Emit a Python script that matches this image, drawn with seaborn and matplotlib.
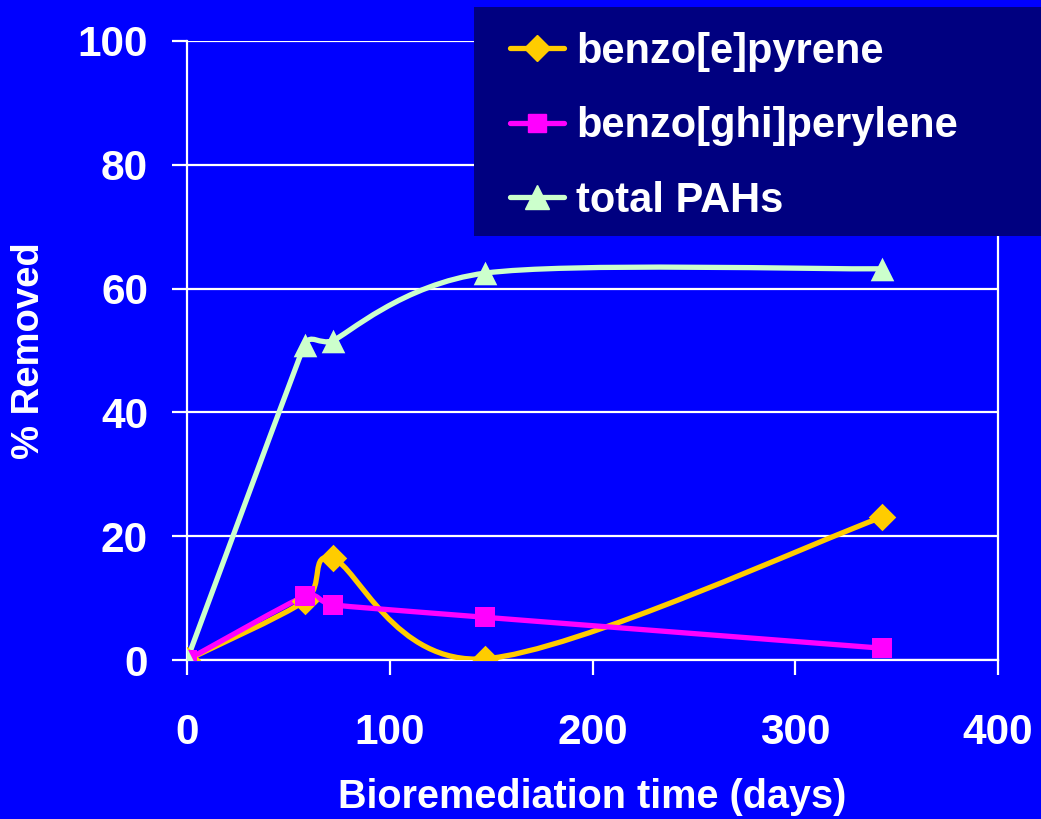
import numpy as np
import pandas as pd
import seaborn as sns
import matplotlib
matplotlib.use("Agg")
import matplotlib.pyplot as plt
from matplotlib.path import Path
from matplotlib.patches import PathPatch, Rectangle
from matplotlib.lines import Line2D

# Removal of PAHs over the bioremediation period
days = [0, 58, 72, 147, 343]
benzo_e_pyrene = [0.0, 9.5, 16.4, 0.2, 23.1]
benzo_ghi_perylene = [0.0, 10.3, 8.9, 6.9, 1.9]
total_pahs = [0.0, 50.9, 51.6, 62.5, 63.2]

series_names = ["benzo[e]pyrene", "benzo[ghi]perylene", "total PAHs"]
series_values = [benzo_e_pyrene, benzo_ghi_perylene, total_pahs]
series_colors = ["#FFCC00", "#FF00FF", "#CCFFCC"]
series_markers = ["D", "s", "^"]
marker_sizes = [14, 14.5, 17]

x_ticks = [0, 100, 200, 300, 400]
y_ticks = [0, 20, 40, 60, 80, 100]

BG = "#0000FF"
LEGEND_BG = "#000080"

sns.set_theme(style="white")
plt.rcParams["font.family"] = ["Liberation Sans", "DejaVu Sans"]
plt.rcParams["font.weight"] = "bold"

W, H = 1041, 819
fig = plt.figure(figsize=(W / 100, H / 100), dpi=100)
fig.patch.set_facecolor(BG)
ax = fig.add_axes([187 / W, 1 - 660 / H, (998 - 187) / W, (660 - 41) / H])
ax.set_facecolor(BG)
ax.set_xlim(0, 400)
ax.set_ylim(0, 100)


def smooth_path(axis, xs, ys, t=1 / 6):
    """Cubic Bezier path through the points, with tangents built in display
    space and each control arm capped at half the shorter adjacent segment."""
    to_disp = axis.transData
    pts = to_disp.transform(np.column_stack([xs, ys]).astype(float))
    n = len(pts)

    def arms(i):
        p_prev = pts[i - 1] if i > 0 else pts[i]
        p_next = pts[i + 1] if i + 1 < n else pts[i]
        tang = p_next - p_prev
        L = np.hypot(*tang)
        if L == 0:
            return np.zeros(2)
        arm = L * t
        segs = []
        if i > 0:
            segs.append(np.hypot(*(pts[i] - pts[i - 1])))
        if i + 1 < n:
            segs.append(np.hypot(*(pts[i + 1] - pts[i])))
        arm = min(arm, min(segs) / 2)
        return tang / L * arm

    verts = [pts[0]]
    codes = [Path.MOVETO]
    for i in range(n - 1):
        c1 = pts[i] + arms(i)
        c2 = pts[i + 1] - arms(i + 1)
        verts += [c1, c2, pts[i + 1]]
        codes += [Path.CURVE4] * 3
    data_verts = to_disp.inverted().transform(np.array(verts))
    return Path(data_verts, codes)


rows = []
for name, vals in zip(series_names, series_values):
    for d, v in zip(days, vals):
        rows.append({"days": d, "removed": v, "series": name})
df = pd.DataFrame(rows)

# smoothed connecting lines, drawn in data coordinates
for name, vals, col in zip(series_names, series_values, series_colors):
    patch = PathPatch(smooth_path(ax, days, vals), facecolor="none", edgecolor=col,
                      linewidth=3.8, zorder=3, capstyle="round", joinstyle="round")
    ax.add_patch(patch)

# markers
for name, col, mk, ms in zip(series_names, series_colors, series_markers, marker_sizes):
    sub = df[df["series"] == name]
    sns.scatterplot(data=sub, x="days", y="removed", ax=ax, color=col, marker=mk,
                    s=ms ** 2, edgecolor=col, linewidth=0, zorder=4, legend=False)

ax.set_xlim(0, 400)
ax.set_ylim(0, 100)
ax.set_xticks(x_ticks)
ax.set_yticks(y_ticks)
ax.set_xticklabels([str(v) for v in x_ticks])
ax.set_yticklabels([str(v) for v in y_ticks])

ax.yaxis.grid(True, color="white", linewidth=1.6)
ax.xaxis.grid(False)
ax.set_axisbelow(True)

for side in ["left", "bottom", "right"]:
    ax.spines[side].set_visible(True)
    ax.spines[side].set_color("white")
    ax.spines[side].set_linewidth(1.6)
ax.spines["top"].set_visible(False)

ax.tick_params(axis="both", colors="white", labelcolor="white", labelsize=30.5,
               length=11, width=1.6, direction="out")
ax.tick_params(axis="x", pad=27, bottom=True)
ax.tick_params(axis="y", pad=17, left=True)
for lab in ax.get_xticklabels() + ax.get_yticklabels():
    lab.set_fontweight("bold")

ax.set_xlabel("Bioremediation time (days)", color="white", fontsize=28.5, fontweight="bold")
ax.xaxis.set_label_coords(0.5, -0.19)
ax.set_ylabel("")
fig.text(29 / W, 1 - 351 / H, "% Removed", rotation=90, ha="center", va="center",
         color="white", fontsize=27.5, fontweight="bold")

# legend panel
fig.patches.append(Rectangle((474 / W, 1 - 236 / H), (W - 474) / W + 0.01, (236 - 7) / H,
                             transform=fig.transFigure, facecolor=LEGEND_BG,
                             edgecolor="none", zorder=5))
legend_marker_sizes = [13, 13.5, 17]
handles = [Line2D([0], [0], color=c, marker=m, markersize=s,
                  markerfacecolor=c, markeredgecolor=c, linewidth=3.8)
           for c, m, s in zip(series_colors, series_markers, legend_marker_sizes)]
leg = fig.legend(handles, series_names, loc="upper left",
                 bbox_to_anchor=(497 / W, 1 - 19 / H), frameon=False,
                 fontsize=30, handlelength=1.3, handletextpad=0.3,
                 labelspacing=0.83, borderpad=0.3, borderaxespad=0)
leg.set_zorder(6)
for txt in leg.get_texts():
    txt.set_color("white")
    txt.set_fontweight("bold")

fig.savefig("out.png", dpi=100, facecolor=BG)
